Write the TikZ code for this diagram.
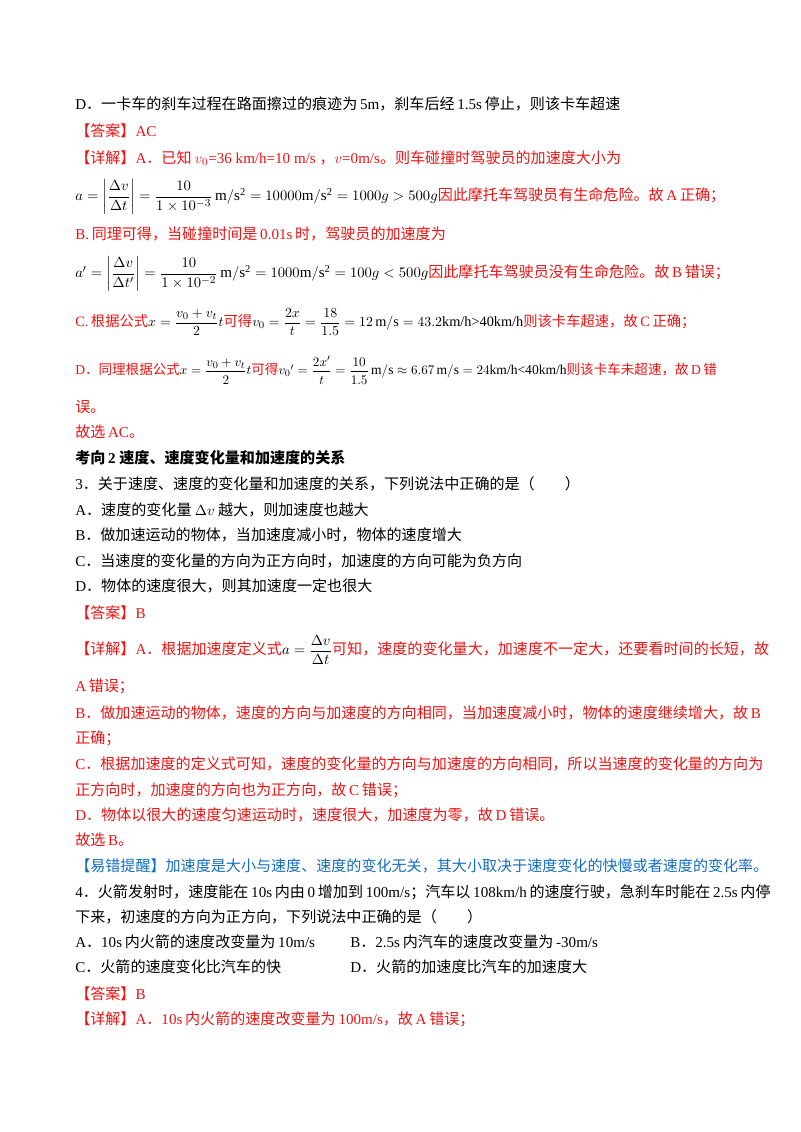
\documentclass[tikz,border=0pt]{standalone}
\usepackage{amsmath}
\usepackage{graphicx}
\usepackage{fontspec}
\setmainfont{Liberation Serif}
\newfontfamily\cjk{Noto Sans CJK SC}
\newcommand\latn{\rmfamily}
\XeTeXinterchartokenstate=1
\newXeTeXintercharclass\CJKcls
\newXeTeXintercharclass\CJKpun
\count255="3000
\loop\XeTeXcharclass\count255=\CJKpun\ifnum\count255<"303F\advance\count255 by 1\repeat
\count255="4E00
\loop\XeTeXcharclass\count255=\CJKcls\ifnum\count255<"9FFF\advance\count255 by 1\repeat
\count255="FF00
\loop\XeTeXcharclass\count255=\CJKpun\ifnum\count255<"FFEF\advance\count255 by 1\repeat
\XeTeXinterchartoks 0 \CJKcls = {\hskip0.18em\cjk}
\XeTeXinterchartoks 4095 \CJKcls = {\cjk}
\XeTeXinterchartoks \CJKcls 0 = {\hskip0.18em\latn}
\XeTeXinterchartoks 0 \CJKpun = {\cjk}
\XeTeXinterchartoks 4095 \CJKpun = {\cjk}
\XeTeXinterchartoks \CJKpun 0 = {\latn}
\XeTeXinterchartoks 4095 0 = {\latn}
\definecolor{ared}{RGB}{236,20,20}
\definecolor{ablue}{RGB}{20,110,190}
\tikzset{ln/.style={anchor=west,inner sep=0pt,font=\fontsize{11.3}{13}\selectfont},
 rd/.style={ln,text=ared}, bl/.style={ln,text=ablue}}
\begin{document}
\begin{tikzpicture}[x=0.75pt,y=-0.75pt]
\useasboundingbox[fill=white] (0,0) rectangle (800,1132);
\node[ln] (l1) at (75,104) {D．一卡车的刹车过程在路面擦过的痕迹为5m，刹车后经1.5s停止，则该卡车超速};
\node[rd] (l2) at (75,131) {【答案】AC};
\node[rd] (l3) at (75,158) {【详解】A．已知 $v_0$=36 km/h=10 m/s ，$v$=0m/s。则车碰撞时驾驶员的加速度大小为};
\node[rd] (l4) at (75,197) {\color{black}$a=\left|\dfrac{\Delta v}{\Delta t}\right|=\dfrac{10}{1\times10^{-3}}\,\mathrm{m/s^2}=10000\mathrm{m/s^2}=1000g>500g$\color{ared}因此摩托车驾驶员有生命危险。故A正确；};
\node[rd] (l5) at (75,234) {B.同理可得，当碰撞时间是0.01s时，驾驶员的加速度为};
\node[rd] (l6) at (75,274) {\color{black}$a'=\left|\dfrac{\Delta v}{\Delta t'}\right|=\dfrac{10}{1\times10^{-2}}\,\mathrm{m/s^2}=1000\mathrm{m/s^2}=100g<500g$\color{ared}因此摩托车驾驶员没有生命危险。故B错误；};
\node[rd] (l7) at (75,322) {\scalebox{0.95}{C.根据公式\color{black}$x=\dfrac{v_0+v_t}{2}t$\color{ared}可得\color{black}$v_0=\dfrac{2x}{t}=\dfrac{18}{1.5}=12\,\mathrm{m/s}=43.2$km/h>40km/h\color{ared}则该卡车超速，故C正确；}};
\node[rd] (l8) at (75,370) {\scalebox{0.9}{D．同理根据公式\color{black}$x=\dfrac{v_0+v_t}{2}t$\color{ared}可得\color{black}$v_0{}'=\dfrac{2x'}{t}=\dfrac{10}{1.5}\,\mathrm{m/s}\approx6.67\,\mathrm{m/s}=24$km/h<40km/h\color{ared}则该卡车未超速，故D错}};
\node[rd] (l9) at (75,407) {误。};
\node[rd] (l10) at (75,432) {故选AC。};
\node[ln,font=\fontsize{11.3}{13}\selectfont\bfseries] (l11) at (75,458) {考向2\ 速度、速度变化量和加速度的关系};
\node[ln] (l12) at (75,484) {3．关于速度、速度的变化量和加速度的关系，下列说法中正确的是（\qquad）};
\node[ln] (l13) at (75,510) {A．速度的变化量 $\Delta v$ 越大，则加速度也越大};
\node[ln] (l14) at (75,535) {B．做加速运动的物体，当加速度减小时，物体的速度增大};
\node[ln] (l15) at (75,561) {C．当速度的变化量的方向为正方向时，加速度的方向可能为负方向};
\node[ln] (l16) at (75,586) {D．物体的速度很大，则其加速度一定也很大};
\node[rd] (l17) at (75,613) {【答案】B};
\node[rd] (l18) at (75,650) {【详解】A．根据加速度定义式\color{black}$a=\dfrac{\Delta v}{\Delta t}$\color{ared}可知，速度的变化量大，加速度不一定大，还要看时间的长短，故};
\node[rd] (l19) at (75,686) {A错误；};
\node[rd] (l20) at (75,713) {B．做加速运动的物体，速度的方向与加速度的方向相同，当加速度减小时，物体的速度继续增大，故B};
\node[rd] (l21) at (75,738) {正确；};
\node[rd] (l22) at (75,764) {C．根据加速度的定义式可知，速度的变化量的方向与加速度的方向相同，所以当速度的变化量的方向为};
\node[rd] (l23) at (75,790) {正方向时，加速度的方向也为正方向，故C错误；};
\node[rd] (l24) at (75,815) {D．物体以很大的速度匀速运动时，速度很大，加速度为零，故D错误。};
\node[rd] (l25) at (75,840) {故选B。};
\node[bl] (l26) at (75,866) {【易错提醒】加速度是大小与速度、速度的变化无关，其大小取决于速度变化的快慢或者速度的变化率。};
\node[ln] (l27) at (75,892) {4．火箭发射时，速度能在10s内由0增加到100m/s；汽车以108km/h的速度行驶，急刹车时能在2.5s内停};
\node[ln] (l28) at (75,917) {下来，初速度的方向为正方向，下列说法中正确的是（\qquad）};
\node[ln] (l29) at (75,942) {A．10s内火箭的速度改变量为10m/s};
\node[ln] (l30) at (350,942) {B．2.5s内汽车的速度改变量为-30m/s};
\node[ln] (l31) at (75,967) {C．火箭的速度变化比汽车的快};
\node[ln] (l32) at (350,967) {D．火箭的加速度比汽车的加速度大};
\node[rd] (l33) at (75,994) {【答案】B};
\node[rd] (l34) at (75,1019) {【详解】A．10s内火箭的速度改变量为100m/s，故A错误；};
\end{tikzpicture}
\end{document}
